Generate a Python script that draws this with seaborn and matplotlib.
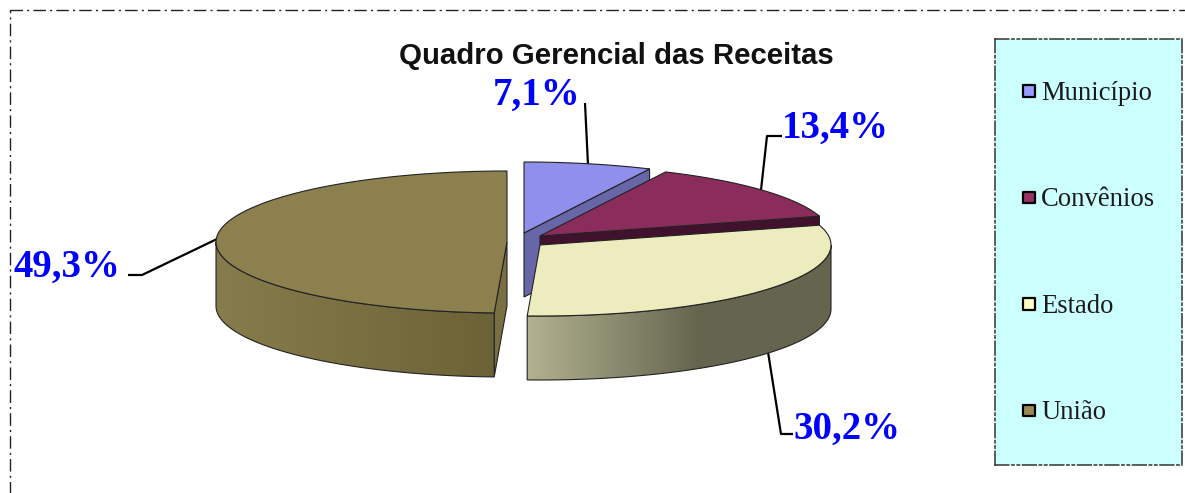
import numpy as np
import pandas as pd
import matplotlib
matplotlib.use("Agg")
import matplotlib.pyplot as plt
from matplotlib.patches import Polygon, Rectangle
import seaborn as sns

# Data
categories = ["Município", "Convênios", "Estado", "União"]
shares = [7.1, 13.4, 30.2, 49.3]

top_colors = ["#8f8fec", "#8b2d5c", "#ececbe", "#8b804e"]
face_colors = ["#6666a8", "#41122d", "#65654f", "#7a6f42"]
legend_colors = ["#9999ff", "#993366", "#ffffcc", "#998a55"]

sns.set_theme(style="white")

# Pie geometry, in image pixels
rx, ry = 291, 71
depth = 64
centre = (525, 241)
explode = [(-1, -8), (15, -5), (15, 4), (-18, 1)]

edges = np.concatenate([[0], np.cumsum(shares)]) / np.sum(shares) * 360


def pts(cx, cy, t1, t2, drop=0):
    t = np.radians(np.linspace(t1, t2, 120))
    return np.column_stack([cx + rx * np.sin(t), cy - ry * np.cos(t) + drop])


def poly(ax, xy, color, z, lw=0.8):
    p = Polygon(xy, closed=True, facecolor=color, edgecolor="#222222", linewidth=lw, zorder=z)
    ax.add_patch(p)
    return p


def rim(ax, cx, cy, t1, t2, c_left, c_right, stop, z):
    # rim of the cylinder, shaded from left to right
    xy = np.vstack([pts(cx, cy, t1, t2), pts(cx, cy, t2, t1, depth)])
    poly(ax, xy, "none", z + 0.1)
    x0, x1 = xy[:, 0].min(), xy[:, 0].max()
    y0, y1 = xy[:, 1].min(), xy[:, 1].max()
    ramp = np.clip((np.linspace(x0, x1, 256) - x0) / (stop - x0), 0, 1)
    cmap = matplotlib.colors.LinearSegmentedColormap.from_list("rim", [c_left, c_right])
    im = ax.imshow(ramp[None, :], cmap=cmap, extent=(x0, x1, y1, y0), aspect="auto",
                   vmin=0, vmax=1, zorder=z, interpolation="bilinear")
    im.set_clip_path(Polygon(xy, closed=True, transform=ax.transData))


fig = plt.figure(figsize=(11.85, 4.93), dpi=100, facecolor="white")
ax = fig.add_axes([0, 0, 1, 1])

# Slices, back to front
for i in [0, 1, 3, 2]:
    cx = centre[0] + explode[i][0]
    cy = centre[1] + explode[i][1]
    t1, t2 = edges[i], edges[i + 1]
    z = {0: 2, 1: 4, 3: 3, 2: 6}[i]
    end = pts(cx, cy, t2, t2)[0]
    start = pts(cx, cy, t1, t1)[0]

    if i in (0, 1):
        # cut face on the right of the slice
        poly(ax, [(cx, cy), end, end + (0, depth), (cx, cy + depth)], face_colors[i], z)
    if i == 2:
        rim(ax, cx, cy, 90, t2, "#b2b290", face_colors[i], 700, z)
    if i == 3:
        poly(ax, [(cx, cy), start, start + (0, depth), (cx, cy + depth)], face_colors[i], z)
        rim(ax, cx, cy, t1, 270, "#877c4b", "#6c6237", 495, z)
    poly(ax, np.vstack([[(cx, cy)], pts(cx, cy, t1, t2)]), top_colors[i], z + 0.5)

# Leader lines
leaders = [
    [(585, 103), (588, 165)],
    [(782, 136), (767, 136), (761, 190)],
    [(768, 352), (781, 434), (793, 434)],
    [(128, 275), (142, 275), (217, 239)],
]
label_pos = [(537, 95), (835, 128), (847, 429), (67, 267)]
for line, pos, v in zip(leaders, label_pos, shares):
    xs, ys = zip(*line)
    ax.plot(xs, ys, color="black", lw=1.6, zorder=1, solid_capstyle="butt")
    ax.text(pos[0], pos[1], f"{v:.1f}%".replace(".", ","), color="#0000ff", fontsize=28,
            fontweight="bold", family="Liberation Serif", ha="center", va="center", zorder=9)

ax.text(616, 56, "Quadro Gerencial das Receitas", fontsize=21.2, fontweight="bold",
        family="Liberation Sans", color="#111111", ha="center", va="center", zorder=9)

# Outer frame, only its top and left edges fall inside the picture
ax.add_patch(Rectangle((10, 9.5), 1400, 700, fill=False, edgecolor="#222222", lw=1,
                       linestyle=(0, (9, 3, 1.5, 3)), clip_on=True, zorder=1))
ax.set_xlim(0, 1185)
ax.set_ylim(493, 0)
ax.axis("off")

# Legend panel, its swatches go through seaborn
leg = fig.add_axes([995 / 1185, 1 - 465 / 493, 187 / 1185, 426 / 493])
leg.set_facecolor("#ccffff")
legend_df = pd.DataFrame({"categoria": categories, "x": [0] * len(categories)})
sns.scatterplot(data=legend_df, x="x", y="categoria", hue="categoria", palette=legend_colors,
                marker="s", s=70, edgecolor="black", linewidth=1.6, legend=False, ax=leg)
leg.set_xlim(-0.185, 1.0)
leg.set_ylim(3.51, -0.49)
# swatch centre sits 34 px into the panel
leg.set_xlim(-34 / 187, 1 - 34 / 187)
for i, c in enumerate(categories):
    leg.text(0.065, i + 0.02, c, fontsize=19.2, family="Liberation Serif", color="#1a1a1a",
             va="center", ha="left")
leg.set_xticks([])
leg.set_yticks([])
leg.set_xlabel("")
leg.set_ylabel("")
for s in leg.spines.values():
    s.set_visible(True)
    s.set_color("#333333")
    s.set_linewidth(1.1)
    s.set_linestyle((0, (9, 2, 1.5, 2, 1.5, 2)))

fig.savefig("out.png", dpi=100)
